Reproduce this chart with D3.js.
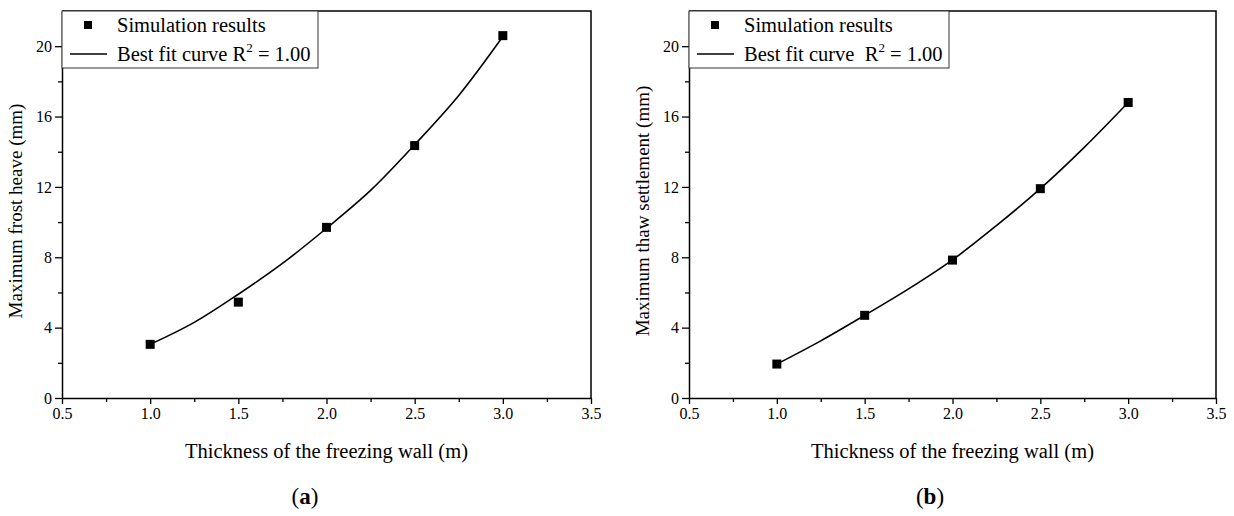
<!DOCTYPE html>
<html>
<head>
<meta charset="utf-8">
<script src="https://cdn.jsdelivr.net/npm/d3@7"></script>
<style>
body { margin: 0; background: #fff; }
svg { display: block; }
</style>
</head>
<body>
<svg id="chart" width="1234" height="516" font-family="Liberation Serif, Times New Roman, serif"></svg>
<script>
// data
var thickness = [1.0, 1.5, 2.0, 2.5, 3.0];
var heaveSim = [3.05, 5.45, 9.7, 14.35, 20.6];
var settleSim = [1.93, 4.7, 7.84, 11.9, 16.8];

var fitX = [1.0, 1.25, 1.5, 1.75, 2.0, 2.25, 2.5, 2.75, 3.0];
var heaveFit = [3.05, 4.3, 5.9, 7.65, 9.65, 11.8, 14.4, 17.2, 20.55];
var settleFit = [1.93, 3.25, 4.7, 6.2, 7.85, 9.8, 11.9, 14.25, 16.8];

var xTicks = [0.5, 1.0, 1.5, 2.0, 2.5, 3.0, 3.5];
var xMinor = [0.75, 1.25, 1.75, 2.25, 2.75, 3.25];
var yTicks = [0, 4, 8, 12, 16, 20];
var yMinor = [2, 6, 10, 14, 18];

var svg = d3.select("#chart");
var serif = "Liberation Serif, Times New Roman, serif";

function drawPanel(p) {
	var g = svg.append("g");
	var x = d3.scaleLinear().domain([0.5, 3.5]).range([p.left, p.right]);
	var y = d3.scaleLinear().domain([0, 22]).range([398, 11]);

	//frame top/right
	g.append("path")
	.attr("d", "M" + p.left + ",11H" + p.right + "V398")
	.attr("fill", "none")
	.attr("stroke", "#000")
	.attr("stroke-width", 1.5);

	//minor ticks
	g.append("g")
	.attr("transform", "translate(" + p.left + ",0)")
	.call(d3.axisLeft(y).tickValues(yMinor).tickSize(4).tickFormat("").tickSizeOuter(0))
	.call(function(s) { s.select(".domain").remove(); });
	g.append("g")
	.attr("transform", "translate(0,398)")
	.call(d3.axisBottom(x).tickValues(xMinor).tickSize(4).tickFormat("").tickSizeOuter(0))
	.call(function(s) { s.select(".domain").remove(); });

	//major axes
	var ya = g.append("g")
	.attr("transform", "translate(" + p.left + ",0)")
	.call(d3.axisLeft(y).tickValues(yTicks).tickSize(7).tickPadding(3).tickSizeOuter(0).tickFormat(d3.format("d")));
	var xa = g.append("g")
	.attr("transform", "translate(0,398)")
	.call(d3.axisBottom(x).tickValues(xTicks).tickSize(6).tickPadding(4).tickSizeOuter(0).tickFormat(d3.format(".1f")));
	[ya, xa].forEach(function(a) {
		a.attr("font-family", serif).attr("font-size", 16);
		a.select(".domain").attr("stroke-width", 1.5);
	});
	g.selectAll(".tick line").attr("stroke-width", 1.3);

	//axis titles
	g.append("text")
	.attr("x", (p.left + p.right) / 2)
	.attr("y", 458)
	.attr("text-anchor", "middle")
	.attr("font-size", 20.5)
	.text("Thickness of the freezing wall (m)");
	g.append("text")
	.attr("transform", "translate(" + (p.left - 40) + "," + 211 + ") rotate(-90)")
	.attr("text-anchor", "middle")
	.attr("font-size", 19)
	.text(p.ytitle);

	//fit curve
	var fit = fitX.map(function(d, i) { return [d, p.fit[i]]; });
	g.append("path")
	.datum(fit)
	.attr("d", d3.line().x(function(d) { return x(d[0]); }).y(function(d) { return y(d[1]); }).curve(d3.curveCatmullRom))
	.attr("fill", "none")
	.attr("stroke", "#000")
	.attr("stroke-width", 1.6);

	//points
	var ms = 9;
	g.selectAll(".pt").data(thickness).enter()
	.append("rect")
	.attr("x", function(d) { return x(d) - ms / 2; })
	.attr("y", function(d, i) { return y(p.sim[i]) - ms / 2; })
	.attr("width", ms)
	.attr("height", ms)
	.attr("fill", "#000");

	//legend
	g.append("rect")
	.attr("x", p.left)
	.attr("y", 11)
	.attr("width", p.legendW)
	.attr("height", 57)
	.attr("fill", "#fff")
	.attr("stroke", "#333")
	.attr("stroke-width", 1);
	g.append("rect")
	.attr("x", p.left + 22)
	.attr("y", 21)
	.attr("width", 8)
	.attr("height", 8)
	.attr("fill", "#000");
	g.append("line")
	.attr("x1", p.left + 8)
	.attr("x2", p.left + 45)
	.attr("y1", 54)
	.attr("y2", 54)
	.attr("stroke", "#000")
	.attr("stroke-width", 1.5);
	g.append("text")
	.attr("x", p.left + 55)
	.attr("y", 32)
	.attr("font-size", 20.5)
	.text("Simulation results");
	var t = g.append("text")
	.attr("x", p.left + 55)
	.attr("y", 61)
	.attr("font-size", 20.5)
	.attr("xml:space", "preserve");
	t.append("tspan").text(p.fitLabel + "R");
	t.append("tspan").attr("font-size", 13).attr("dy", -9).text("2");
	t.append("tspan").attr("dy", 9).text(" = 1.00");

	//sub label
	var s = g.append("text")
	.attr("x", p.subX)
	.attr("y", 504)
	.attr("text-anchor", "middle")
	.attr("font-size", 23);
	s.append("tspan").text("(");
	s.append("tspan").attr("font-weight", "bold").text(p.sub);
	s.append("tspan").text(")");
}

drawPanel({ left: 62, right: 591, ytitle: "Maximum frost heave (mm)", sim: heaveSim, fit: heaveFit,
	legendW: 256, fitLabel: "Best fit curve ", sub: "a", subX: 305 });
drawPanel({ left: 689, right: 1216, ytitle: "Maximum thaw settlement (mm)", sim: settleSim, fit: settleFit,
	legendW: 260, fitLabel: "Best fit curve  ", sub: "b", subX: 930 });
</script>
</body>
</html>
